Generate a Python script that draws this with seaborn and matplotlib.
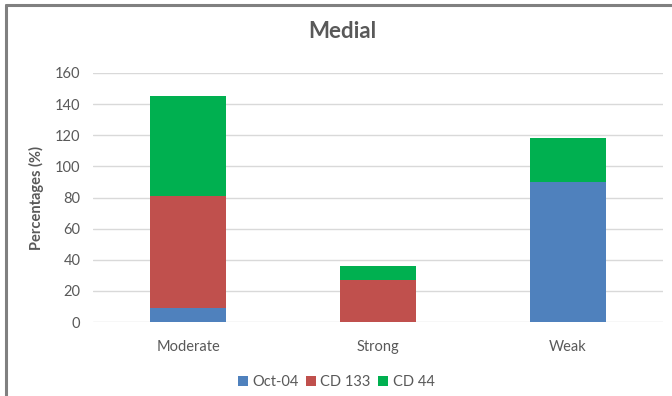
import matplotlib
matplotlib.use("Agg")
import matplotlib.pyplot as plt
from matplotlib.lines import Line2D
from matplotlib.patches import Patch
import numpy as np
import pandas as pd
import seaborn as sns

categories = ["Moderate", "Strong", "Weak"]
oct04 = [9, 0, 90]
cd133 = [72, 27, 0]
cd44 = [64, 9, 28]
series_names = ["Oct-04", "CD 133", "CD 44"]
colors = ["#4F81BD", "#C0504D", "#00B050"]
yticks = [0, 20, 40, 60, 80, 100, 120, 140, 160]

sns.set_theme(style="white")
plt.rcParams["font.family"] = ["Lato", "DejaVu Sans"]

fig = plt.figure(figsize=(6.72, 3.96), dpi=100)
ax = fig.add_axes([93 / 672, 1 - 322 / 396, 570 / 672, 249 / 396])

df = pd.DataFrame({"category": categories, "Oct-04": oct04, "CD 133": cd133, "CD 44": cd44})
bottom = np.zeros(len(categories))
for name, col in zip(series_names, colors):
    sns.barplot(data=df, x="category", y=name, color=col, width=0.4,
                bottom=bottom, ax=ax, saturation=1, linewidth=0, zorder=3)
    bottom = bottom + df[name].to_numpy()

ax.set_xlim(-0.5, 2.5)
ax.set_ylim(0, 160)
ax.set_yticks(yticks)
ax.yaxis.grid(True, color="#D9D9D9", linewidth=1, zorder=0)
for s in ax.spines.values():
    s.set_visible(False)
ax.tick_params(axis="both", length=0, colors="#595959", labelsize=10.5)
ax.tick_params(axis="y", pad=9)
ax.tick_params(axis="x", pad=13)
ax.set_xlabel("")
ax.set_ylabel("Percentages (%)", fontsize=10.5, fontweight="bold", color="#595959", labelpad=8)

fig.text(0.51, 1 - 31 / 396, "Medial", ha="center", va="center",
         fontsize=16, fontweight="bold", color="#595959")

handles = [Patch(facecolor=c, edgecolor="none") for c in colors]
fig.legend(handles, series_names, loc="center", bbox_to_anchor=(0.5, 1 - 382 / 396),
           ncol=3, frameon=False, fontsize=10.5, handlelength=0.7, handleheight=0.7,
           handletextpad=0.3, columnspacing=0.5, labelcolor="#595959")

# chart frame
fig.add_artist(Line2D([6 / 672, 6 / 672], [0, 1 - 5 / 396], color="#808080", linewidth=2.2,
                      transform=fig.transFigure))
fig.add_artist(Line2D([6 / 672, 1], [1 - 5 / 396, 1 - 5 / 396], color="#808080", linewidth=2.2,
                      transform=fig.transFigure))

fig.savefig("out.png", dpi=100, facecolor="white")
